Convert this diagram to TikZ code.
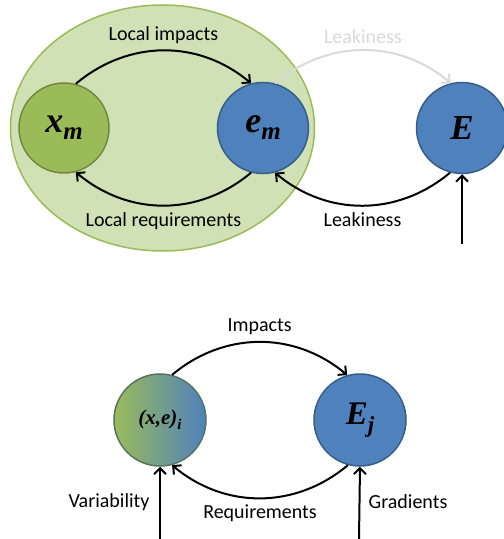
\documentclass[tikz,border=0pt]{standalone}
\usepackage{fontspec}
\setmainfont{Carlito}
\newfontfamily\mathserif{Liberation Serif}
\usetikzlibrary{arrows.meta,shadings,shapes.geometric}
\definecolor{ogreen}{HTML}{9BBB59}
\definecolor{ogreenD}{HTML}{71893F}
\definecolor{oblue}{HTML}{4F81BD}
\definecolor{oblueD}{HTML}{385D8A}
\definecolor{lgreen}{HTML}{D0E1B5}
\definecolor{mixD}{HTML}{56755F}
\tikzset{
  x=1pt,y=1pt,
  gcirc/.style={circle,draw=ogreenD,fill=ogreen,line width=1.5pt,minimum size=90pt,inner sep=0pt},
  bcirc/.style={circle,draw=oblueD,fill=oblue,line width=1.5pt,minimum size=91pt,inner sep=0pt},
  flow/.style={line width=2pt,-{Straight Barb[length=6pt,width=12pt,line width=2pt]}},
  lbl/.style={font=\fontsize{20}{24}\selectfont,inner sep=0pt}
}
\begin{document}
\begin{tikzpicture}
\useasboundingbox (0,0) rectangle (504,539);
% top
\node[ellipse,minimum width=304pt,minimum height=246pt,draw=ogreen,fill=lgreen,line width=1.5pt] (ell) at (162.5,411) {};
\node[gcirc] (xm) at (64,411) {\fontsize{36}{36}\mathserif\bfseries\itshape x\raisebox{-7pt}{\fontsize{25}{25}\selectfont m}};
\node[bcirc] (em) at (263,411) {\fontsize{36}{36}\mathserif\bfseries\itshape e\raisebox{-7pt}{\fontsize{25}{25}\selectfont m}};
\node[bcirc] (E) at (462,411) {\fontsize{35}{35}\mathserif\bfseries\itshape E};
\draw[flow] (xm.75) to[out=40,in=140] node[lbl,above=6pt] {Local impacts} (em.105);
\draw[flow,draw=black!15] (em.75) to[out=40,in=140] node[lbl,above=6pt,text=black!15] {Leakiness} (E.104);
\draw[flow] (em.255) to[out=-140,in=-40] node[lbl,below=6pt] {Local requirements} (xm.285);
\draw[flow] (E.255) to[out=-140,in=-40] node[lbl,below=6pt] {Leakiness} (em.285);
\coordinate (Ein) at (462,295);
\draw[flow] (Ein) -- (E.south);
% bottom
\node[circle,minimum size=92pt,inner sep=0pt,left color=ogreen,right color=oblue,draw=mixD,line width=1.5pt] (xe) at (160,119) {\fontsize{21}{21}\mathserif\bfseries\itshape (x,e)\raisebox{-5pt}{\fontsize{15}{15}\selectfont i}};
\node[bcirc,minimum size=92pt] (Ej) at (360,119) {\fontsize{33}{33}\mathserif\bfseries\itshape E\raisebox{-8pt}{\fontsize{23}{23}\selectfont j}};
\draw[flow] (xe.75) to[out=40,in=140] node[lbl,above=6pt] {Impacts} (Ej.106);
\draw[flow] (Ej.255) to[out=-140,in=-40] node[lbl,below=6pt] {Requirements} (xe.285);
\coordinate (xin) at (160,0);
\coordinate (Ejin) at (359,0);
\draw[flow] (xin) -- (xe.south);
\draw[flow] (Ejin) -- (Ej.south);
\node[lbl] (var) at (109,37) {Variability};
\node[lbl] (grad) at (408,37) {Gradients};
\end{tikzpicture}
\end{document}
